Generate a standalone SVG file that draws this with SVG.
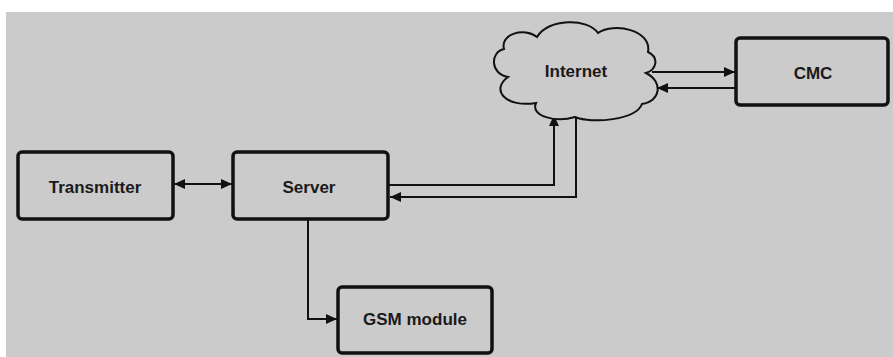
<svg xmlns="http://www.w3.org/2000/svg" width="893" height="357" viewBox="0 0 893 357">
<style>
.box{fill:#cbcbcb;stroke:#111;stroke-width:3.5}
.lbl{font-family:"Liberation Sans",Arial,sans-serif;font-weight:bold;font-size:17px;fill:#1a1a1a;text-anchor:middle}
.ln{fill:none;stroke:#111;stroke-width:2}
</style>
<defs>
<marker id="ah" markerUnits="userSpaceOnUse" markerWidth="12" markerHeight="10" refX="11" refY="5" orient="auto-start-reverse">
<path d="M0,0 L11,5 L0,10 z" fill="#111"/>
</marker>
</defs>
<rect x="0" y="0" width="893" height="357" fill="#ffffff"/>
<rect x="6" y="12" width="887" height="345" fill="#cbcbcb"/>
<g id="connectors">
<path class="ln" d="M174,184 L232,184" marker-start="url(#ah)" marker-end="url(#ah)"/>
<path class="ln" d="M388,185 L554,185 L554,115" marker-end="url(#ah)"/>
<path class="ln" d="M576,117 L576,197 L390,197" marker-end="url(#ah)"/>
<path class="ln" d="M308,220 L308,319 L337,319" marker-end="url(#ah)"/>
<path class="ln" d="M652,72 L735,72" marker-end="url(#ah)"/>
<path class="ln" d="M735,88 L657,88" marker-end="url(#ah)"/>
</g>
<g id="transmitter">
<rect class="box" x="18" y="152" width="155" height="67" rx="4"/>
<text class="lbl" x="95" y="193">Transmitter</text>
</g>
<g id="server">
<rect class="box" x="233" y="152" width="155" height="67" rx="4"/>
<text class="lbl" x="309" y="193">Server</text>
</g>
<g id="gsm">
<rect class="box" x="338" y="287" width="154" height="66" rx="4"/>
<text class="lbl" x="415" y="325">GSM module</text>
</g>
<g id="cmc">
<rect class="box" x="736" y="38" width="152" height="67" rx="4"/>
<text class="lbl" x="813" y="79">CMC</text>
</g>
<g id="internet">
<path d="M508,77 C490,74 490,52 504,49 C500,34 524,27 537,37 C548,18 588,18 598,33 C614,22 652,30 648,52 C660,58 656,70 646,73 C664,82 660,102 642,104 C636,120 592,124 575,117 C556,123 530,116 536,103 C506,108 490,90 508,77 Z" fill="#cbcbcb" stroke="#111" stroke-width="2"/>
<text class="lbl" x="576" y="77">Internet</text>
</g>
</svg>
